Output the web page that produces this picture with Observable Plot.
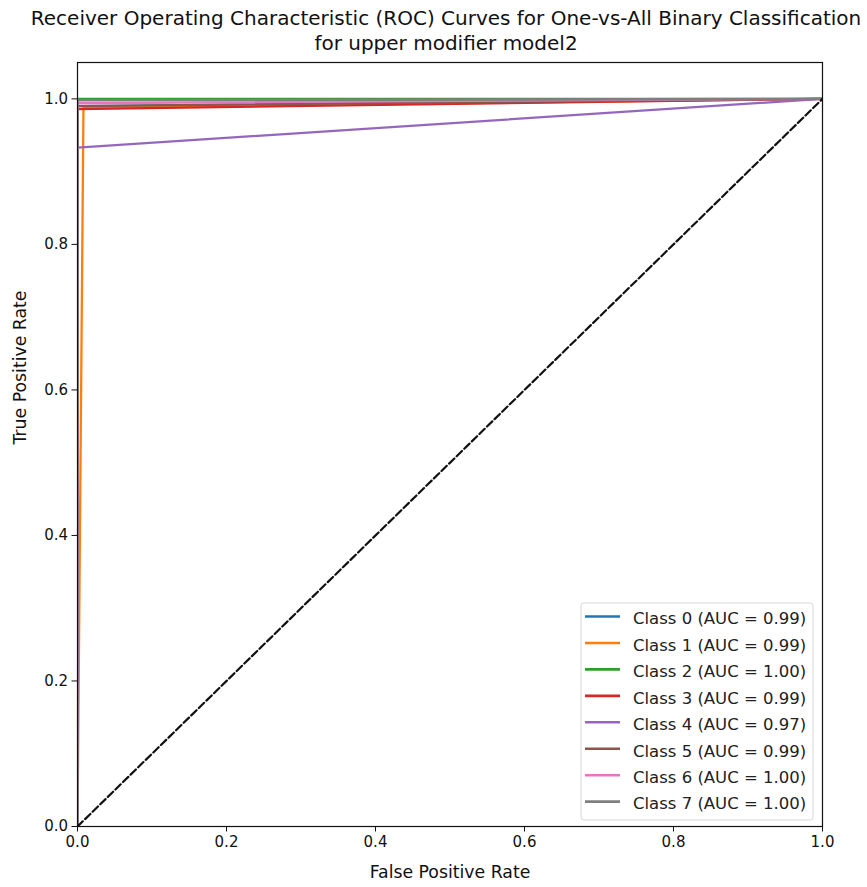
<!DOCTYPE html>
<html>
<head>
<meta charset="utf-8">
<script src="https://cdn.jsdelivr.net/npm/d3@7"></script>
<script src="https://cdn.jsdelivr.net/npm/@observablehq/plot@0.6"></script>
<style>
  html, body { margin: 0; padding: 0; background: white; }
</style>
</head>
<body>
<div id="chart"></div>
<script>
const titleLines = [
  "Receiver Operating Characteristic (ROC) Curves for One-vs-All Binary Classification",
  "for upper modifier model2"
];
const xLabel = "False Positive Rate";
const yLabel = "True Positive Rate";
const classes = ["Class 0", "Class 1", "Class 2", "Class 3", "Class 4", "Class 5", "Class 6", "Class 7"];
const aucLabels = ["0.99", "0.99", "1.00", "0.99", "0.97", "0.99", "1.00", "1.00"];
const colors = ["#1f77b4", "#ff7f0e", "#2ca02c", "#d62728", "#9467bd", "#8c564b", "#e377c2", "#7f7f7f"];
const fprValues = [
  [0, 0, 1],
  [0, 0.008, 1],
  [0, 0, 1],
  [0, 0, 1],
  [0, 0, 1],
  [0, 0, 1],
  [0, 0, 1],
  [0, 0, 1]
];
const tprValues = [
  [0, 0.99, 1],
  [0, 0.988, 1],
  [0, 1.0, 1],
  [0, 0.986, 1],
  [0, 0.933, 1],
  [0, 0.99, 1],
  [0, 0.994, 1],
  [0, 0.998, 1]
];
const diagonal = [{x: 0, y: 0}, {x: 1, y: 1}];
const xTicks = [0, 0.2, 0.4, 0.6, 0.8, 1.0];
const yTicks = [0, 0.2, 0.4, 0.6, 0.8, 1.0];

const rows = classes.flatMap((c, i) =>
  fprValues[i].map((f, j) => ({cls: c, fpr: f, tpr: tprValues[i][j]}))
);

const W = 867, H = 887;
const mL = 77, mR = 45, mT = 62, mB = 61;

const chart = Plot.plot({
  width: W, height: H,
  marginLeft: mL, marginRight: mR, marginTop: mT, marginBottom: mB,
  style: {fontFamily: "DejaVu Sans", fontSize: "15px", color: "#111", background: "white", overflow: "visible"},
  x: {domain: [0, 1], label: null},
  y: {domain: [0, 1.05], label: null},
  color: {domain: classes, range: colors},
  marks: [
    Plot.line(rows, {x: "fpr", y: "tpr", stroke: "cls", strokeWidth: 2.3, strokeLinecap: "butt", clip: true}),
    Plot.line(diagonal, {x: "x", y: "y", stroke: "#111", strokeWidth: 2.2, strokeDasharray: "7.4,3.2", clip: true}),
    Plot.frame({stroke: "#111", strokeWidth: 1.2}),
    Plot.axisX({ticks: xTicks, tickFormat: d3.format(".1f"), tickSize: 5.5, tickPadding: 4, fontSize: 15, label: null}),
    Plot.axisY({ticks: yTicks, tickFormat: d3.format(".1f"), tickSize: 5.5, tickPadding: 4, fontSize: 15, label: null}),
    Plot.text([xLabel], {text: d => d, frameAnchor: "bottom", lineAnchor: "middle", dy: 46, fontSize: 17.3}),
    Plot.text([yLabel], {text: d => d, frameAnchor: "left", lineAnchor: "middle", dx: -57, rotate: -90, fontSize: 17.3}),
    Plot.text([titleLines[0]], {text: d => d, frameAnchor: "top", lineAnchor: "middle", dx: -4, dy: -44, fontSize: 20}),
    Plot.text([titleLines[1]], {text: d => d, frameAnchor: "top", lineAnchor: "middle", dx: -4, dy: -19, fontSize: 20})
  ]
});

// Legend (lower right)
const svg = d3.select(chart);
const lg = svg.append("g").attr("font-family", "DejaVu Sans").attr("font-size", 16.5).attr("text-anchor", "start");
const lx = 581, ly = 603, lw = 232, lh = 217, step = 26.45, y0 = 616.5;
lg.append("rect").attr("x", lx).attr("y", ly).attr("width", lw).attr("height", lh)
  .attr("rx", 3).attr("fill", "white").attr("fill-opacity", 0.8).attr("stroke", "#d8d8d8");
classes.forEach((c, i) => {
  const yy = y0 + i * step;
  lg.append("line").attr("x1", 585).attr("x2", 620).attr("y1", yy).attr("y2", yy)
    .attr("stroke", colors[i]).attr("stroke-width", 2.6);
  lg.append("text").attr("x", 633).attr("y", yy + 2).attr("dy", "0.35em").attr("fill", "#222")
    .text(`${c} (AUC = ${aucLabels[i]})`);
});

document.getElementById("chart").appendChild(chart);
</script>
</body>
</html>
